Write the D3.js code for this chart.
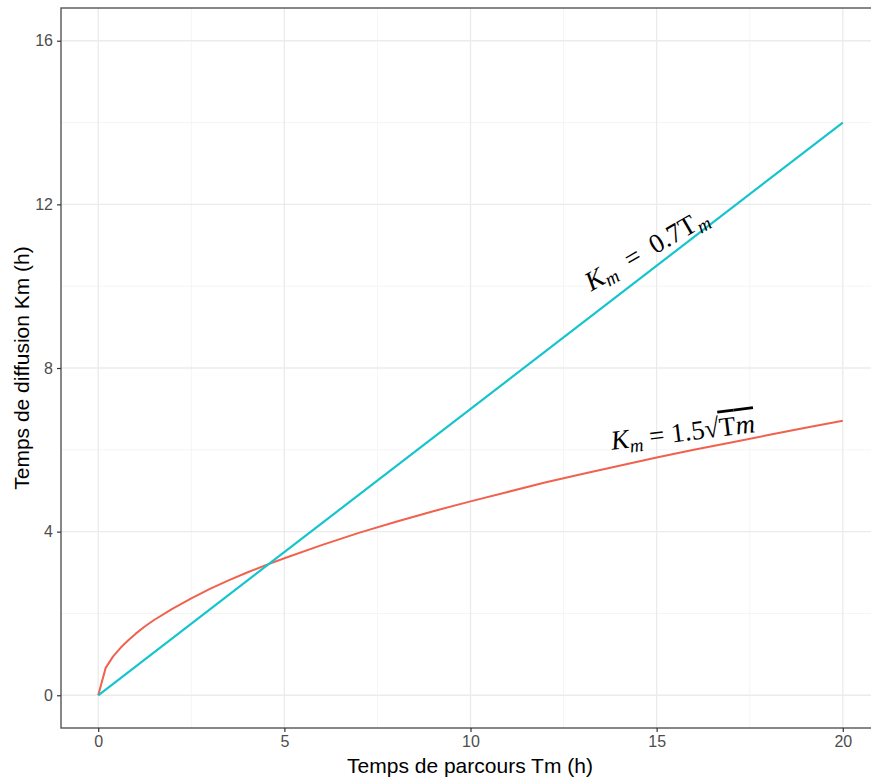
<!DOCTYPE html>
<html><head><meta charset="utf-8">
<script src="https://cdn.jsdelivr.net/npm/d3@7"></script>
<style>body{margin:0;background:#fff}svg{display:block}text{white-space:pre}</style>
</head><body>
<svg id="c" width="871" height="779"></svg>
<script>
// Data
const linTm = [0, 20];
const linKm = [0, 14];
const sqrtTm = [0, 0.2, 0.4, 0.6, 0.8, 1, 1.25, 1.5, 2, 2.5, 3, 3.5, 4, 4.5, 5, 6, 7, 8, 9, 10, 11, 12, 13, 14, 15, 16, 17, 18, 19, 20];
const sqrtKm = [0, 0.67, 0.95, 1.16, 1.34, 1.5, 1.68, 1.84, 2.12, 2.37, 2.6, 2.81, 3.0, 3.18, 3.35, 3.67, 3.97, 4.24, 4.5, 4.74, 4.97, 5.2, 5.41, 5.61, 5.81, 6.0, 6.18, 6.36, 6.54, 6.71];
const xTicks = [0, 5, 10, 15, 20];
const yTicks = [0, 4, 8, 12, 16];
const xMinor = [2.5, 7.5, 12.5, 17.5];
const yMinor = [2, 6, 10, 14];
const xTitle = "Temps de parcours Tm (h)";
const yTitle = "Temps de diffusion Km (h)";

const svg = d3.select("#c");
const x = d3.scaleLinear().domain([-1, 21]).range([61, 880]);
const y = d3.scaleLinear().domain([-0.8, 16.8]).range([728, 8]);
const L = 61, R = 880, T = 8, B = 728;

svg.append("rect").attr("x", L).attr("y", T).attr("width", R - L).attr("height", B - T).attr("fill", "#fff");
const grid = svg.append("g");
grid.selectAll(".xm").data(xMinor).join("line").attr("x1", d => x(d)).attr("x2", d => x(d)).attr("y1", T).attr("y2", B).attr("stroke", "#f2f2f2").attr("stroke-width", 0.8);
grid.selectAll(".ym").data(yMinor).join("line").attr("y1", d => y(d)).attr("y2", d => y(d)).attr("x1", L).attr("x2", R).attr("stroke", "#f2f2f2").attr("stroke-width", 0.8);
grid.selectAll(".xM").data(xTicks).join("line").attr("x1", d => x(d)).attr("x2", d => x(d)).attr("y1", T).attr("y2", B).attr("stroke", "#ebebeb").attr("stroke-width", 1.3);
grid.selectAll(".yM").data(yTicks).join("line").attr("y1", d => y(d)).attr("y2", d => y(d)).attr("x1", L).attr("x2", R).attr("stroke", "#ebebeb").attr("stroke-width", 1.3);

const line = d3.line().x(d => x(d[0])).y(d => y(d[1]));
svg.append("path").datum(sqrtTm.map((t, i) => [t, sqrtKm[i]])).attr("d", line)
  .attr("fill", "none").attr("stroke", "#F0624E").attr("stroke-width", 2).attr("stroke-linejoin", "round");
svg.append("path").datum(linTm.map((t, i) => [t, linKm[i]])).attr("d", line)
  .attr("fill", "none").attr("stroke", "#15C4CC").attr("stroke-width", 2.2);

svg.append("rect").attr("x", L).attr("y", T).attr("width", R - L).attr("height", B - T)
  .attr("fill", "none").attr("stroke", "#555").attr("stroke-width", 1.4);

// axes
const xa = svg.append("g").attr("transform", `translate(0,${B})`)
  .call(d3.axisBottom(x).tickValues(xTicks).tickSize(4).tickPadding(4).tickFormat(d3.format("d")));
const ya = svg.append("g").attr("transform", `translate(${L},0)`)
  .call(d3.axisLeft(y).tickValues(yTicks).tickSize(4).tickPadding(4).tickFormat(d3.format("d")));
[xa, ya].forEach(a => {
  a.select(".domain").remove();
  a.selectAll(".tick line").attr("stroke", "#333").attr("stroke-width", 1.2);
  a.selectAll(".tick text").attr("fill", "#4D4D4D").style("font-family", "Liberation Sans, Arial, sans-serif").style("font-size", "16px");
});

svg.append("text").attr("x", 470).attr("y", 773).attr("text-anchor", "middle")
  .style("font-family", "Liberation Sans, Arial, sans-serif").style("font-size", "21px").attr("fill", "#000").text(xTitle);
svg.append("text").attr("transform", "translate(29,368) rotate(-90)").attr("text-anchor", "middle")
  .style("font-family", "Liberation Sans, Arial, sans-serif").style("font-size", "21px").attr("fill", "#000").text(yTitle);

// annotations
const fam = "Liberation Serif, DejaVu Serif, serif";
const a1 = svg.append("text").attr("transform", "translate(651,257) rotate(-30)").attr("text-anchor", "middle")
  .attr("xml:space", "preserve")
  .style("font-family", fam).style("font-size", "27px").attr("fill", "#000");
a1.append("tspan").style("font-style", "italic").text("K");
a1.append("tspan").style("font-style", "italic").style("font-size", "19px").attr("dy", 5).text("m");
a1.append("tspan").attr("dy", -5).text("  =  0.7T");
a1.append("tspan").style("font-style", "italic").style("font-size", "19px").attr("dy", 5).text("m");

const a2 = svg.append("text").attr("transform", "translate(684,441) rotate(-7)").attr("text-anchor", "middle")
  .attr("xml:space", "preserve")
  .style("font-family", fam).style("font-size", "27px").attr("fill", "#000");
a2.append("tspan").style("font-style", "italic").text("K");
a2.append("tspan").style("font-style", "italic").style("font-size", "19px").attr("dy", 5).text("m");
a2.append("tspan").attr("dy", -5).text(" = 1.5√");
a2.append("tspan").style("text-decoration", "overline").text("T");
a2.append("tspan").style("font-style", "italic").style("text-decoration", "overline").text("m");
</script>
</body></html>
